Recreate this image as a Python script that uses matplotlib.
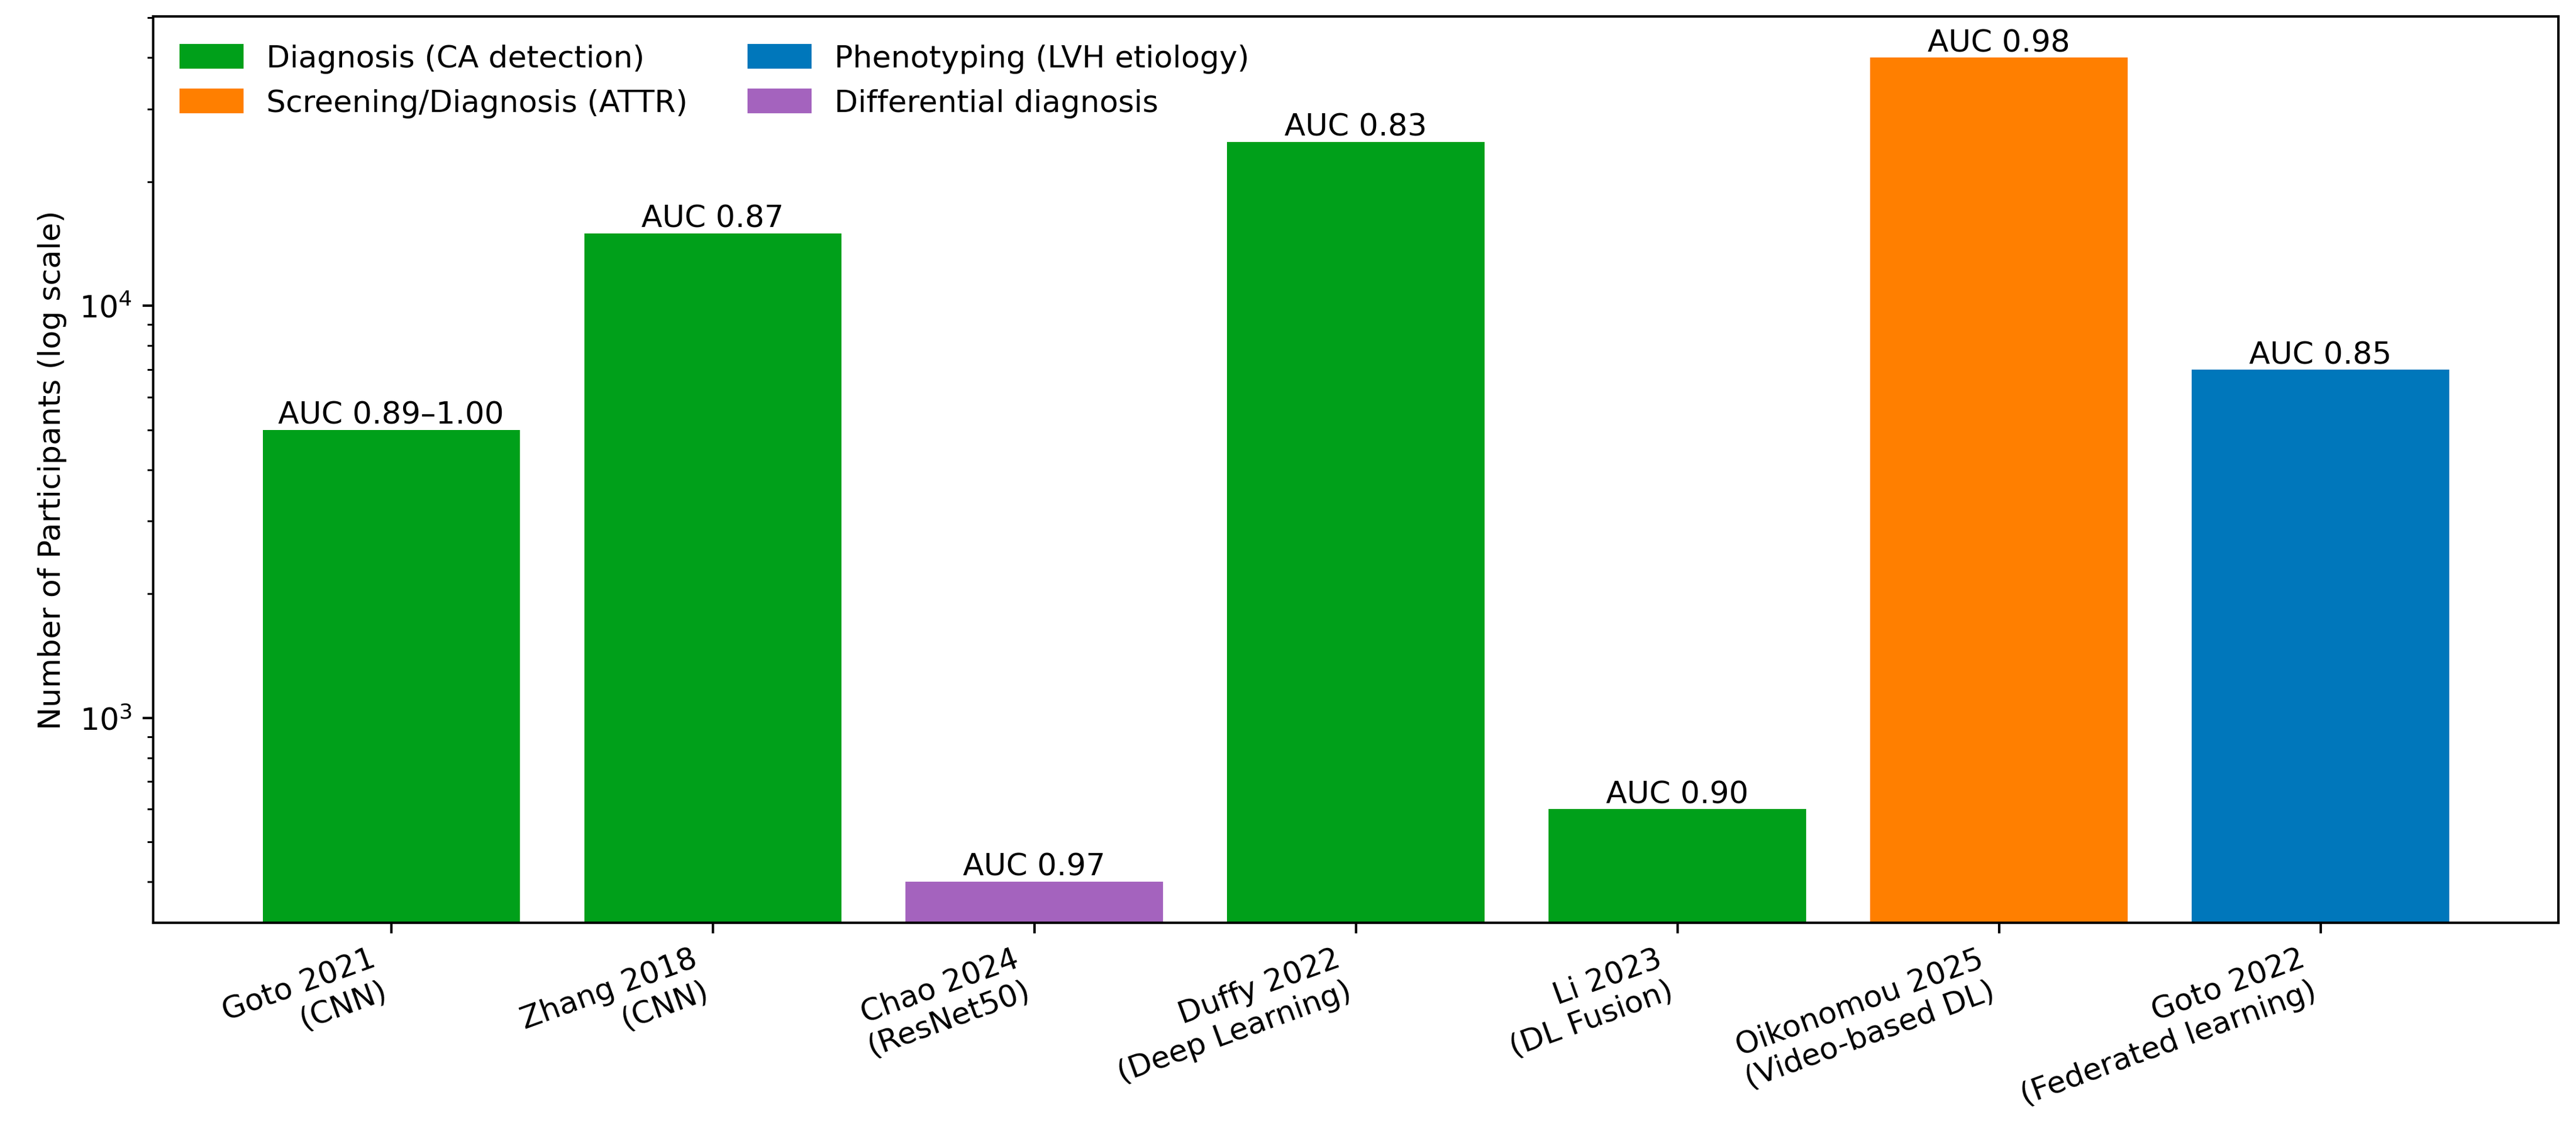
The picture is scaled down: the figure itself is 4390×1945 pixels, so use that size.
import matplotlib
matplotlib.use("Agg")
import matplotlib.pyplot as plt
from matplotlib.patches import Patch

# ---- Data ----
studies = [
    "Goto 2021\n(CNN)",
    "Zhang 2018\n(CNN)",
    "Chao 2024\n(ResNet50)",
    "Duffy 2022\n(Deep Learning)",
    "Li 2023\n(DL Fusion)",
    "Oikonomou 2025\n(Video-based DL)",
    "Goto 2022\n(Federated learning)",
]
participants = [5000, 15000, 400, 25000, 600, 40000, 7000]
auc_labels = ["AUC 0.89–1.00", "AUC 0.87", "AUC 0.97", "AUC 0.83",
              "AUC 0.90", "AUC 0.98", "AUC 0.85"]
tasks = [
    "Diagnosis (CA detection)",
    "Diagnosis (CA detection)",
    "Differential diagnosis",
    "Diagnosis (CA detection)",
    "Diagnosis (CA detection)",
    "Screening/Diagnosis (ATTR)",
    "Phenotyping (LVH etiology)",
]

# legend order (ncol=2 fills columns first)
task_order = [
    "Diagnosis (CA detection)",
    "Screening/Diagnosis (ATTR)",
    "Phenotyping (LVH etiology)",
    "Differential diagnosis",
]
task_colors = {
    "Diagnosis (CA detection)": "#00A01A",
    "Screening/Diagnosis (ATTR)": "#FF7F00",
    "Phenotyping (LVH etiology)": "#0077BB",
    "Differential diagnosis": "#A463BE",
}

DPI = 375
fig, ax = plt.subplots(figsize=(4390 / DPI, 1946 / DPI), dpi=DPI)
fig.subplots_adjust(left=0.0595, right=0.9932, top=0.9851, bottom=0.1912)

x = list(range(len(studies)))
colors = [task_colors[t] for t in tasks]
bars = ax.bar(x, participants, width=0.8, color=colors)
ax.set_yscale("log")
ax.set_ylim(318, 50400)

for rect, txt in zip(bars, auc_labels):
    ax.text(rect.get_x() + rect.get_width() / 2, rect.get_height(), txt,
            ha="center", va="bottom")

ax.set_xticks(x)
ax.set_xticklabels(studies, rotation=20, ha="right")
ax.set_ylabel("Number of Participants (log scale)")

handles = [Patch(color=task_colors[t], label=t) for t in task_order]
ax.legend(handles=handles, loc="upper left", ncol=2, frameon=False)

plt.savefig("out.png", dpi=DPI)
plt.close()
